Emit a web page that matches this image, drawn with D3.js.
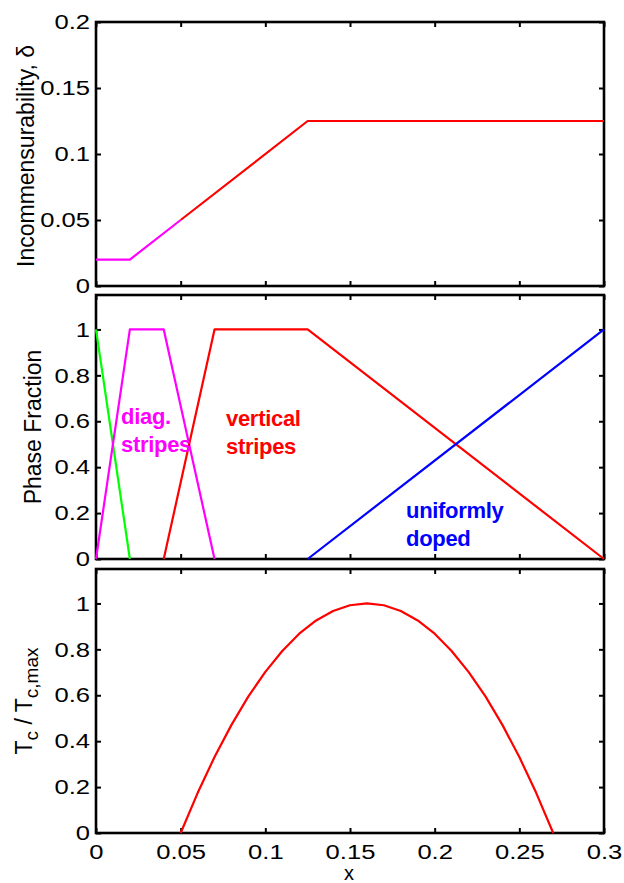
<!DOCTYPE html>
<html>
<head>
<meta charset="utf-8">
<script src="https://cdn.jsdelivr.net/npm/d3@7"></script>
<style>
  html, body { margin: 0; padding: 0; background: #fff; }
  svg { display: block; }
  text { font-family: "Liberation Sans", Arial, Helvetica, sans-serif; }
</style>
</head>
<body>
<svg id="chart" width="624" height="883"></svg>
<script>
// ---- data ----
const xTicks = [0, 0.05, 0.1, 0.15, 0.2, 0.25, 0.3];
const xTickLabels = ["0", "0.05", "0.1", "0.15", "0.2", "0.25", "0.3"];
const deltaTicks = [0, 0.05, 0.1, 0.15, 0.2];
const deltaTickLabels = ["0", "0.05", "0.1", "0.15", "0.2"];
const fracTicks = [0, 0.2, 0.4, 0.6, 0.8, 1];
const fracTickLabels = ["0", "0.2", "0.4", "0.6", "0.8", "1"];

// Panel 1: incommensurability
const deltaDiagX = [0, 0.02, 0.05];
const deltaDiagY = [0.02, 0.02, 0.05];
const deltaVertX = [0.05, 0.125, 0.3];
const deltaVertY = [0.05, 0.125, 0.125];

// Panel 2: phase fractions
const undopedX = [0, 0.02];
const undopedY = [1, 0];
const diagX = [0, 0.02, 0.04, 0.07];
const diagY = [0, 1, 1, 0];
const vertX = [0.04, 0.07, 0.125, 0.3];
const vertY = [0, 1, 1, 0];
const uniformX = [0.125, 0.3];
const uniformY = [0, 1];

// Panel 3: Tc / Tc,max
const tcX = [0.05, 0.06, 0.07, 0.08, 0.09, 0.10, 0.11, 0.12, 0.13, 0.14, 0.15, 0.16,
             0.17, 0.18, 0.19, 0.20, 0.21, 0.22, 0.23, 0.24, 0.25, 0.26, 0.27];
const tcY = [0, 0.174, 0.331, 0.471, 0.595, 0.702, 0.793, 0.868, 0.926, 0.967, 0.992, 1,
             0.992, 0.967, 0.926, 0.868, 0.793, 0.702, 0.595, 0.471, 0.331, 0.174, 0];

// ---- layout ----
const svg = d3.select("#chart");
const left = 96, right = 604;
const x = d3.scaleLinear().domain([0, 0.3]).range([left, right]);
const stretch = 1.22;

const panels = [
  { top: 22, bottom: 286, domain: [0, 0.2], ticks: deltaTicks, labels: deltaTickLabels },
  { top: 295, bottom: 559, domain: [0, 1.15], ticks: fracTicks, labels: fracTickLabels },
  { top: 569, bottom: 833, domain: [0, 1.15], ticks: fracTicks, labels: fracTickLabels }
];
panels.forEach(p => { p.y = d3.scaleLinear().domain(p.domain).range([p.bottom, p.top]); });

function styleAxis(g) {
  g.select(".domain").remove();
  g.selectAll(".tick line").attr("stroke", "#000").attr("stroke-width", 2);
  g.selectAll("text").attr("font-size", 21).attr("fill", "#000")
    .attr("font-family", "Liberation Sans, Arial, sans-serif");
}

panels.forEach((p, i) => {
  const g = svg.append("g");
  const yl = g.append("g").attr("transform", `translate(${left},0)`)
    .call(d3.axisLeft(p.y).tickValues(p.ticks).tickFormat((d, k) => p.labels[k]).tickSize(-5).tickPadding(6));
  styleAxis(yl);
  yl.selectAll("text").attr("x", -6 / stretch).attr("transform", `scale(${stretch},1)`);
  const yr = g.append("g").attr("transform", `translate(${right},0)`)
    .call(d3.axisRight(p.y).tickValues(p.ticks).tickFormat("").tickSize(-5));
  styleAxis(yr);
  const xt = g.append("g").attr("transform", `translate(0,${p.top})`)
    .call(d3.axisTop(x).tickValues(xTicks).tickFormat("").tickSize(-5));
  styleAxis(xt);
  const xb = g.append("g").attr("transform", `translate(0,${p.bottom})`)
    .call(d3.axisBottom(x).tickValues(xTicks)
      .tickFormat((d, k) => i === 2 ? xTickLabels[k] : "").tickSize(-5).tickPadding(11));
  styleAxis(xb);
  xb.selectAll("text").attr("transform", `scale(${stretch},1)`);
  g.append("rect").attr("x", left).attr("y", p.top)
    .attr("width", right - left).attr("height", p.bottom - p.top)
    .attr("fill", "none").attr("stroke", "#000").attr("stroke-width", 2.6);
  p.g = g;
});

const line = (ys, xs, p) => d3.line().x((d, k) => x(xs[k])).y((d, k) => p.y(ys[k]))(xs);

function drawLine(p, xs, ys, color) {
  p.g.append("path").attr("d", line(ys, xs, p))
    .attr("fill", "none").attr("stroke", color).attr("stroke-width", 2.2)
    .attr("stroke-linejoin", "round");
}

drawLine(panels[0], deltaDiagX, deltaDiagY, "#ff00ff");
drawLine(panels[0], deltaVertX, deltaVertY, "#ff0000");
drawLine(panels[1], undopedX, undopedY, "#00ff00");
drawLine(panels[1], diagX, diagY, "#ff00ff");
drawLine(panels[1], vertX, vertY, "#ff0000");
drawLine(panels[1], uniformX, uniformY, "#0000ff");
drawLine(panels[2], tcX, tcY, "#ff0000");

function annot(xp, yp, lines, color) {
  const t = svg.append("text").attr("transform", `translate(${xp},${yp})`)
    .attr("font-size", 22).attr("font-weight", "bold").attr("fill", color)
    .attr("letter-spacing", -0.3);
  lines.forEach((s, k) => t.append("tspan").attr("x", 0).attr("y", k * 28).attr("fill", color).text(s));
}
annot(121, 424, ["diag.", "stripes"], "#ff00ff");
annot(226, 426, ["vertical", "stripes"], "#ff0000");
annot(406, 518, ["uniformly", "doped"], "#0000ff");

svg.append("text").attr("transform", "translate(33.5,156) rotate(-90)")
  .attr("text-anchor", "middle").attr("font-size", 23).attr("fill", "#000").text("Incommensurability, δ");
svg.append("text").attr("transform", "translate(40.5,427) rotate(-90)")
  .attr("text-anchor", "middle").attr("font-size", 23).attr("fill", "#000").text("Phase Fraction");
const tc = svg.append("text").attr("transform", "translate(31.5,701) rotate(-90)")
  .attr("text-anchor", "middle").attr("font-size", 23).attr("fill", "#000");
tc.append("tspan").text("T");
tc.append("tspan").attr("font-size", 19).attr("dy", 6).text("c");
tc.append("tspan").attr("dy", -6).text(" / T");
tc.append("tspan").attr("font-size", 19).attr("dy", 6).text("c,max");

svg.append("text").attr("x", 349).attr("y", 880).attr("text-anchor", "middle")
  .attr("font-size", 20).attr("fill", "#000").text("x");
</script>
</body>
</html>
